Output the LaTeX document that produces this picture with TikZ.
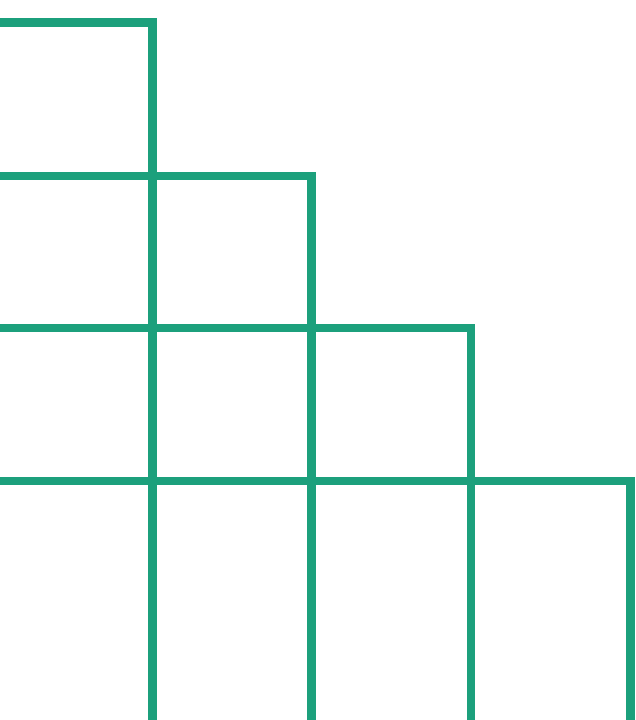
\documentclass[tikz,border=0pt]{standalone}
\definecolor{stairgreen}{RGB}{28,160,124}
\begin{document}
\begin{tikzpicture}[x=1pt,y=-1pt,
  stairline/.style={draw=stairgreen,line width=8.5pt,line join=miter}]
\useasboundingbox (0,0) rectangle (636,720);
\clip (0,0) rectangle (636,720);
\draw[stairline] (-10,22.5) -| (152.5,730);
\draw[stairline] (-10,176) -| (311.5,730);
\draw[stairline] (-10,328) -| (471,730);
\draw[stairline] (-10,481) -| (630.5,730);
\end{tikzpicture}
\end{document}
